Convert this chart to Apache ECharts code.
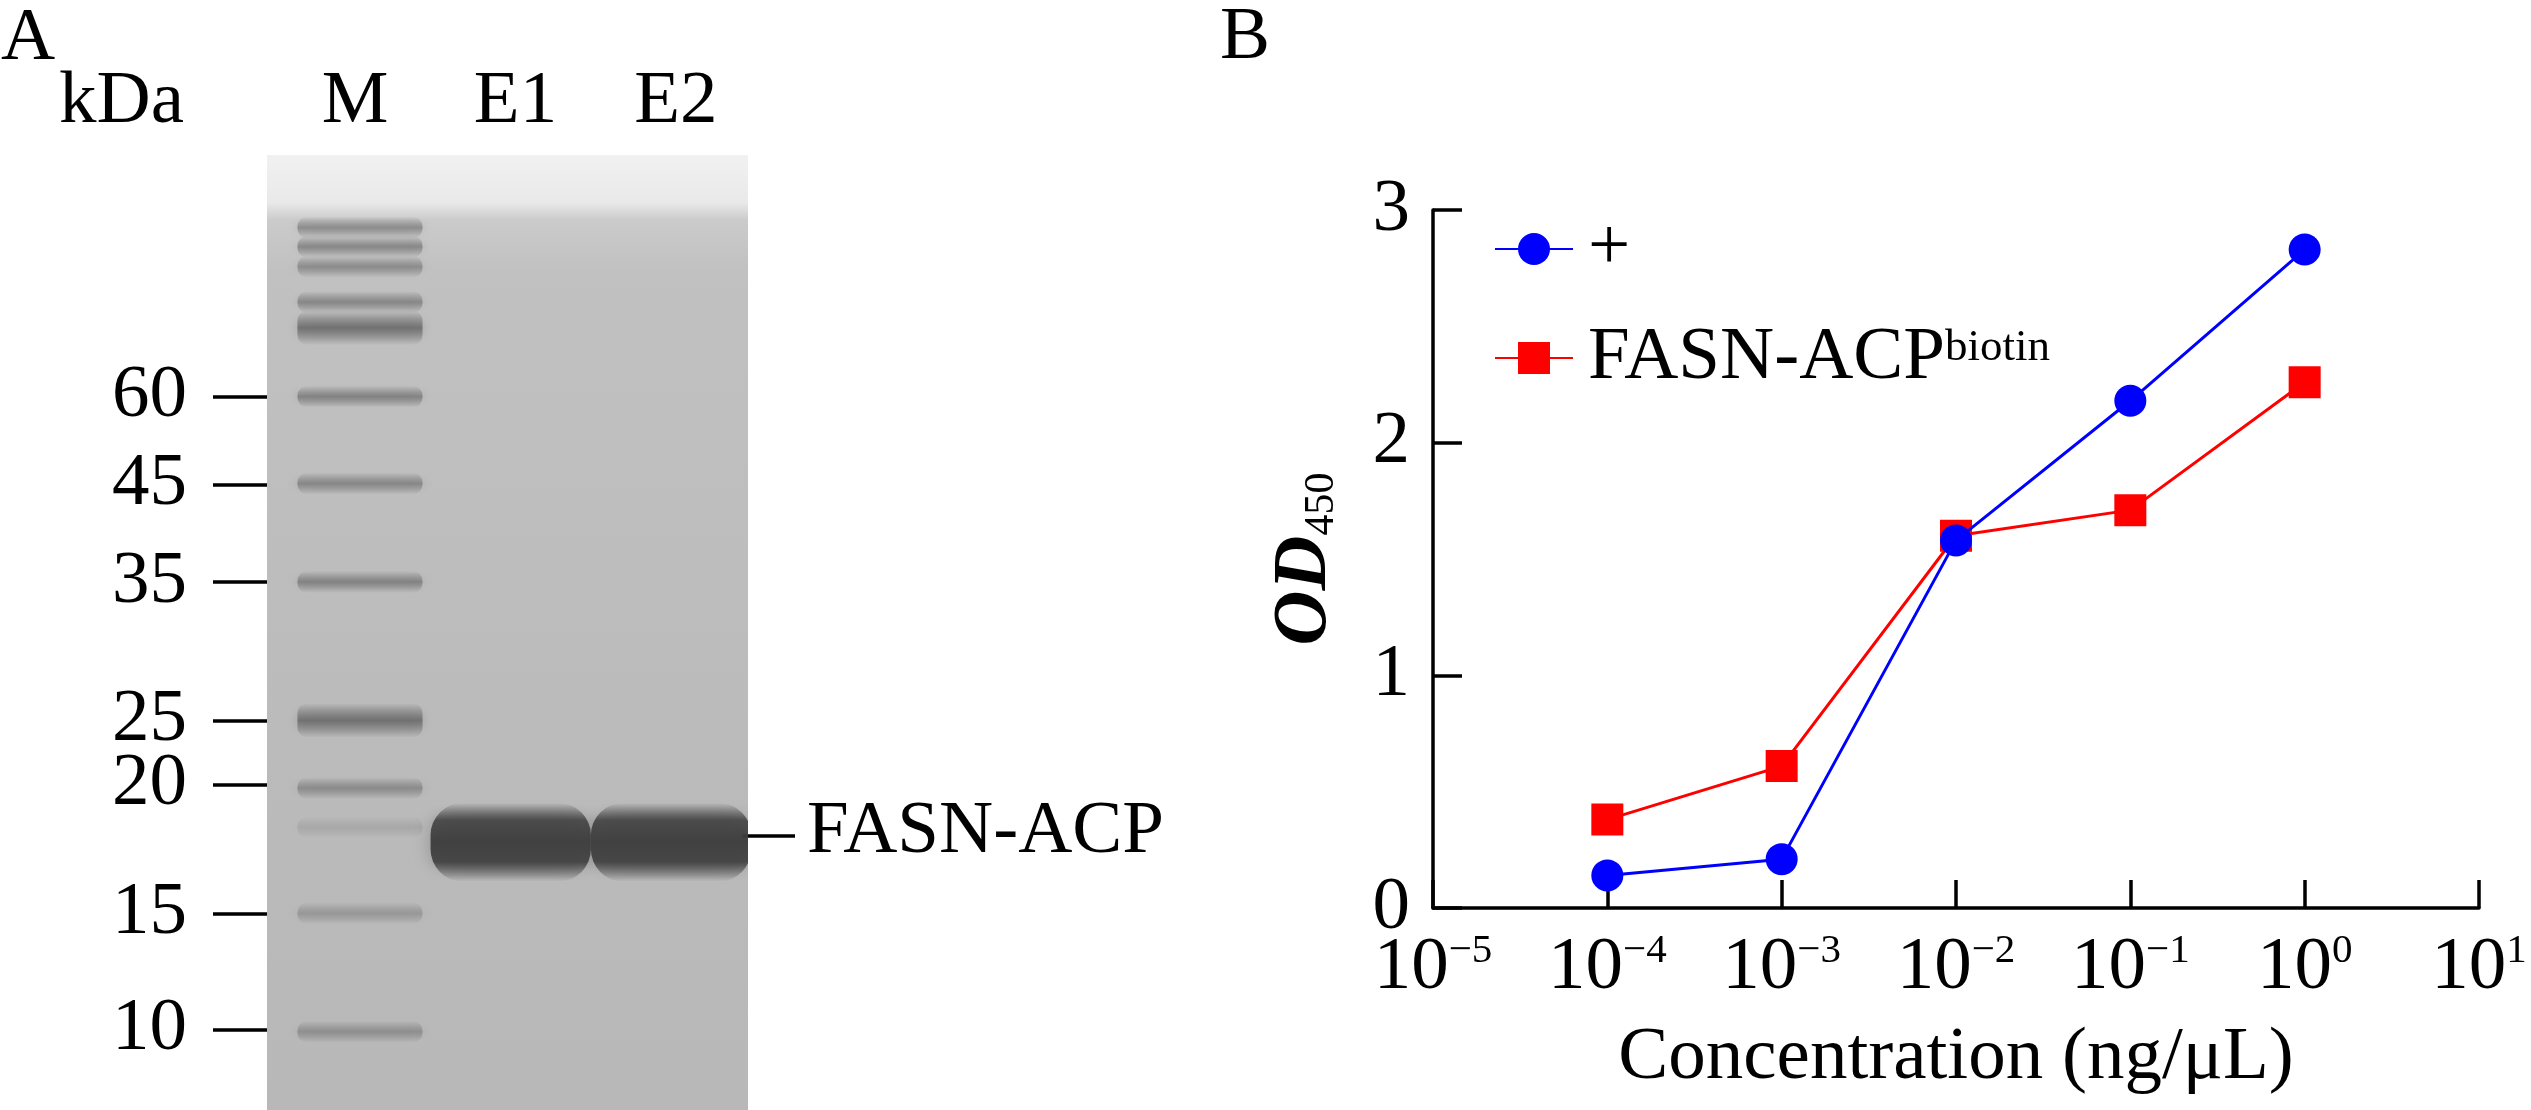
<!DOCTYPE html>
<html><head><meta charset="utf-8">
<script src="https://cdn.jsdelivr.net/npm/echarts@6/dist/echarts.min.js"></script>
<style>html,body{margin:0;padding:0;background:#fff}#c{width:2531px;height:1110px}</style>
</head><body><div id="c"></div>
<script>
// ---------- Panel A: SDS-PAGE ----------
const lanes = ['M', 'E1', 'E2'];
const markerKDa = [60, 45, 35, 25, 20, 15, 10];
const markerKDaPos = [25.3, 34.5, 44.7, 59.2, 65.9, 79.4, 91.6];          // migration, % of gel length
const markerBandPos = [7.6, 9.6, 11.7, 15.4, 18.1, 25.3, 34.4, 44.7, 59.2, 66.3, 70.4, 79.4, 91.8];
const markerBandAmount = [0.5, 0.55, 0.5, 0.55, 0.8, 0.6, 0.55, 0.6, 0.8, 0.5, 0.15, 0.35, 0.45];
const sampleLanes = ['E1', 'E2'];
const sampleBandPos = [71.3, 71.3];
const sampleBandAmount = [1, 1];
const sampleLabel = 'FASN-ACP';

// ---------- Panel B: ELISA ----------
const concentration = [1e-4, 1e-3, 1e-2, 1e-1, 1];   // ng/μL
const odPlus = [0.14, 0.21, 1.58, 2.18, 2.83];
const odBiotin = [0.38, 0.61, 1.60, 1.71, 2.26];
const seriesNames = ['+', 'FASN-ACPbiotin'];

const FONT = '"Liberation Serif", "Times New Roman", serif';

const bandData = [];
markerBandPos.forEach((p, i) => bandData.push([1, p, markerBandAmount[i]]));
sampleLanes.forEach((l, i) => bandData.push([lanes.indexOf(l) + 1, sampleBandPos[i], sampleBandAmount[i]]));

function sup(e) { return e < 0 ? '\u2212' + Math.abs(e) : String(e); }

const chart = echarts.init(document.getElementById('c'), null, {renderer: 'canvas'});
const option = {
  animation: false,
  backgroundColor: '#fff',
  grid: [
    {left: 267, top: 155, width: 481, height: 955, show: true, borderWidth: 0,
     backgroundColor: {type: 'linear', x: 0, y: 0, x2: 0, y2: 1, colorStops: [
       {offset: 0, color: '#f1f1f1'}, {offset: 0.05, color: '#e9e9e9'},
       {offset: 0.068, color: '#cbcbcb'}, {offset: 0.12, color: '#c1c1c1'},
       {offset: 0.6, color: '#bbbbbb'}, {offset: 1, color: '#b8b8b8'}]}},
    {left: 1433, top: 210, width: 1046, height: 698}
  ],
  xAxis: [
    {gridIndex: 0, type: 'value', position: 'top', min: 0.45, max: 3.45,
     axisLine: {show: false}, axisTick: {show: false}, splitLine: {show: false},
     axisLabel: {customValues: [1, 2, 3], formatter: v => lanes[Math.round(v) - 1] || '',
       fontFamily: FONT, fontSize: 75, lineHeight: 75, color: '#000', margin: 15}},
    {gridIndex: 1, type: 'log', logBase: 10, min: 1e-5, max: 10, interval: 1,
     axisLine: {lineStyle: {color: '#000', width: 3.5}},
     axisTick: {inside: true, length: 28, lineStyle: {color: '#000', width: 3.5}},
     minorTick: {show: false}, splitLine: {show: false}, minorSplitLine: {show: false},
     axisLabel: {margin: 23, color: '#000',
       formatter: v => '{b|10}{s|' + sup(Math.round(Math.log10(v))) + '}',
       rich: {b: {fontFamily: FONT, fontSize: 75, lineHeight: 75, color: '#000', verticalAlign: 'middle'},
              s: {fontFamily: FONT, fontSize: 41, lineHeight: 41, color: '#000', verticalAlign: 'top'}}},
     name: 'Concentration (ng/\u03bcL)', nameLocation: 'middle', nameGap: 113,
     nameTextStyle: {fontFamily: FONT, fontSize: 75, lineHeight: 75, color: '#000'}}
  ],
  yAxis: [
    {gridIndex: 0, type: 'value', inverse: true, min: 0, max: 100,
     axisLine: {show: false}, splitLine: {show: false},
     axisTick: {show: true, customValues: markerKDaPos, length: 54, lineStyle: {color: '#000', width: 3.5}},
     axisLabel: {customValues: markerKDaPos, margin: 80, color: '#000', fontFamily: FONT, fontSize: 75, lineHeight: 75,
       padding: [0, 0, 11, 0],
       formatter: v => { const i = markerKDaPos.findIndex(p => Math.abs(p - v) < 1e-6); return i >= 0 ? String(markerKDa[i]) : ''; }}},
    {gridIndex: 1, type: 'value', min: 0, max: 3, interval: 1,
     axisLine: {show: true, lineStyle: {color: '#000', width: 3.5}},
     axisTick: {inside: true, length: 29, lineStyle: {color: '#000', width: 3.5}},
     splitLine: {show: false},
     axisLabel: {margin: 23, color: '#000', fontFamily: FONT, fontSize: 75, lineHeight: 75, padding: [0, 0, 10, 0]},
     name: '{od|OD}{sub|450}', nameLocation: 'middle', nameGap: 90,
     nameTextStyle: {rich: {
       od: {fontFamily: FONT, fontSize: 76, fontStyle: 'italic', fontWeight: 'bold', lineHeight: 75, color: '#000', verticalAlign: 'bottom'},
       sub: {fontFamily: FONT, fontSize: 42, lineHeight: 30, color: '#000', verticalAlign: 'bottom'}}}}
  ],
  legend: {
    data: seriesNames, orient: 'vertical', left: 1494, top: 211.5, padding: 0, itemGap: 14,
    itemWidth: 78, itemHeight: 40, selectedMode: false,
    formatter: n => n === '+' ? '{p|+}' : '{a|FASN-ACP}{s|biotin}',
    textStyle: {color: '#000', fontFamily: FONT, fontSize: 75, rich: {
      p: {fontFamily: FONT, fontSize: 75, lineHeight: 75, color: '#000', padding: [0, 0, 0, 10], verticalAlign: 'middle'},
      a: {fontFamily: FONT, fontSize: 75, lineHeight: 75, color: '#000', padding: [20, 0, 0, 10], verticalAlign: 'bottom'},
      s: {fontFamily: FONT, fontSize: 45, lineHeight: 45, color: '#000', padding: [0, 0, 25, 0], verticalAlign: 'bottom'}}}
  },
  series: [
    {type: 'custom', xAxisIndex: 0, yAxisIndex: 0, clip: true, data: bandData,
     renderItem: (params, api) => {
       const lane = api.value(0), pos = api.value(1), amt = api.value(2);
       const isSample = lane > 1;
       const w = isSample ? 1.0 : 0.78;
       const h = isSample ? 8.2 : (amt >= 0.8 ? 3.6 : 2.3);
       const cx = lane + (isSample ? -0.03 : 0.03);
       const p0 = api.coord([cx - w / 2, pos - h * (isSample ? 0.42 : 0.5)]);
       const p1 = api.coord([cx + w / 2, pos + h * (isSample ? 0.58 : 0.5)]);
       const g = Math.round(isSample ? 62 : 180 - 95 * amt);
       const c = a => 'rgba(' + g + ',' + g + ',' + g + ',' + a + ')';
       const hh = p1[1] - p0[1];
       const stops = isSample
         ? [{offset: 0, color: c(0)}, {offset: 0.22, color: c(0.85)}, {offset: 0.5, color: c(0.97)},
            {offset: 0.75, color: c(0.9)}, {offset: 1, color: c(0)}]
         : [{offset: 0, color: c(0)}, {offset: 0.5, color: c(0.85)}, {offset: 1, color: c(0)}];
       return {type: 'rect',
         shape: {x: p0[0], y: p0[1], width: p1[0] - p0[0], height: hh, r: Math.min(hh / 2, isSample ? 32 : 10)},
         style: {fill: new echarts.graphic.LinearGradient(0, 0, 0, 1, stops),
           shadowBlur: isSample ? 18 : 12, shadowColor: c(0.35)}};
     }},
    {type: 'line', name: seriesNames[1], xAxisIndex: 1, yAxisIndex: 1,
     data: concentration.map((c, i) => [c, odBiotin[i]]),
     symbol: 'rect', symbolSize: 32, itemStyle: {color: '#ff0000'}, lineStyle: {color: '#ff0000', width: 3}, z: 3},
    {type: 'line', name: seriesNames[0], xAxisIndex: 1, yAxisIndex: 1,
     data: concentration.map((c, i) => [c, odPlus[i]]),
     symbol: 'circle', symbolSize: 32, itemStyle: {color: '#0000ff'}, lineStyle: {color: '#0000ff', width: 3}, z: 4}
  ]
};
chart.setOption(option);

// annotations placed through the chart's own coordinate system
const xr = chart.convertToPixel({xAxisIndex: 0}, 3.45);
const yb = chart.convertToPixel({yAxisIndex: 0}, sampleBandPos[1]);
chart.setOption({graphic: [
  {type: 'text', style: {text: 'A', x: 1, y: 39, font: '75px ' + FONT, fill: '#000', align: 'left', verticalAlign: 'middle'}},
  {type: 'text', style: {text: 'kDa', x: 59, y: 102, font: '75px ' + FONT, fill: '#000', align: 'left', verticalAlign: 'middle'}},
  {type: 'text', style: {text: 'B', x: 1220, y: 38, font: '75px ' + FONT, fill: '#000', align: 'left', verticalAlign: 'middle'}},
  {type: 'line', shape: {x1: xr - 6, y1: yb, x2: xr + 47, y2: yb}, style: {stroke: '#000', lineWidth: 3.5}},
  {type: 'text', style: {text: sampleLabel, x: xr + 59, y: yb - 4, font: '75px ' + FONT, fill: '#000', align: 'left', verticalAlign: 'middle'}}
]});
</script></body></html>
